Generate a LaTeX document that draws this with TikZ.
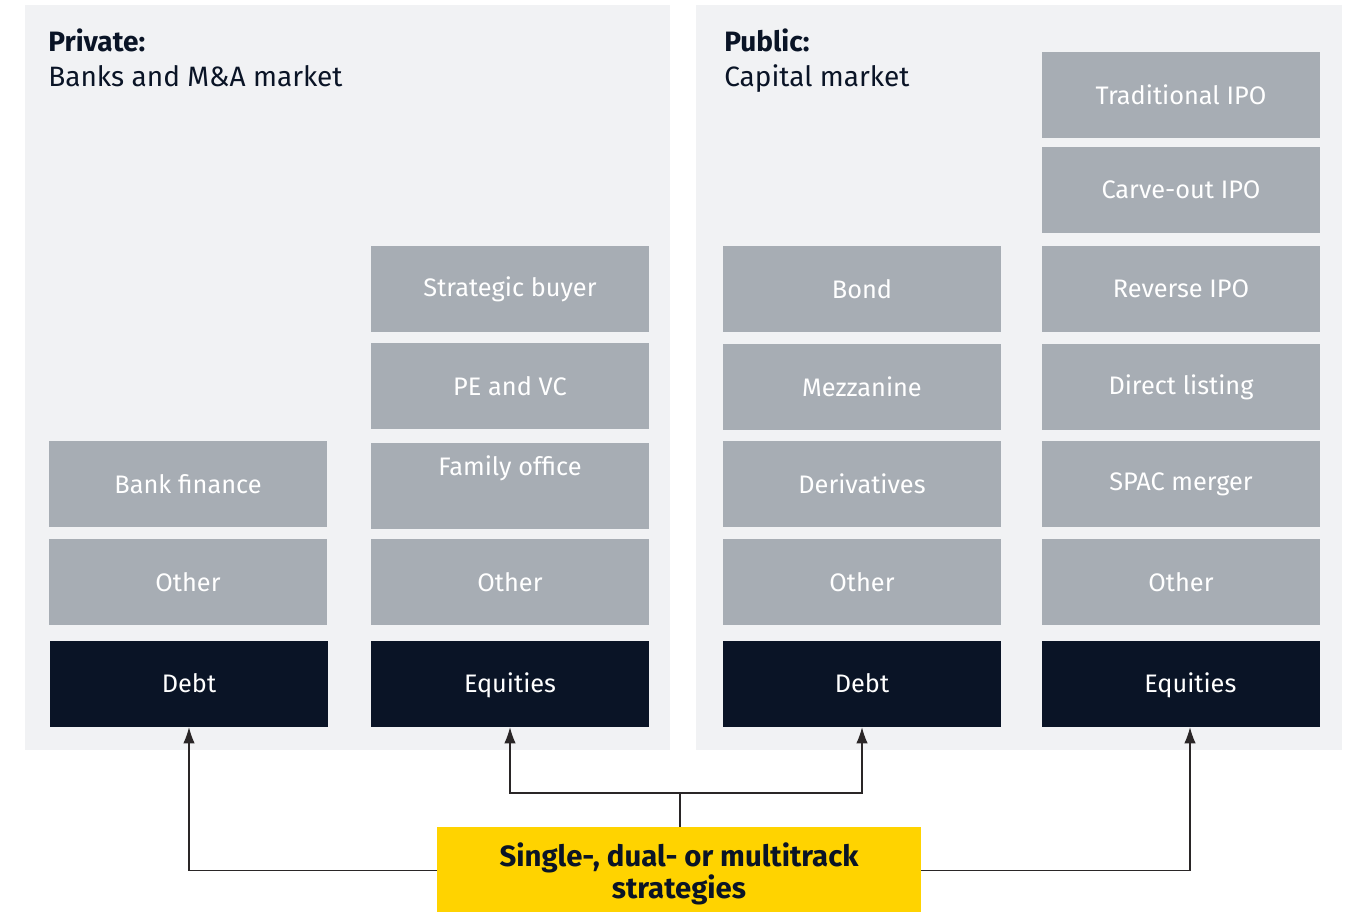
\documentclass[tikz,border=0pt]{standalone}
\usepackage{fontspec}
\setmainfont{Fira Sans}
\usetikzlibrary{positioning,arrows.meta}

\definecolor{panelgray}{HTML}{F1F2F4}
\definecolor{boxgray}{HTML}{A7ADB4}
\definecolor{navy}{HTML}{0A1426}
\definecolor{eyyellow}{HTML}{FFD300}
\definecolor{linegray}{HTML}{2A2627}

\tikzset{
  graybox/.style={fill=boxgray, text=white, minimum width=208.5pt, minimum height=64.5pt,
    inner sep=0pt, align=center, font=\fontsize{19}{24}\selectfont},
  darkbox/.style={graybox, fill=navy, text height=14pt, text depth=2pt},
  heading/.style={anchor=base west, inner sep=0pt, text=navy, font=\fontsize{21}{26}\selectfont},
  track/.style={draw=linegray, line width=0.8pt, -{Latex[length=12pt,width=8.5pt]}},
}

\begin{document}
\begin{tikzpicture}[x=0.75pt,y=-0.75pt]
      \useasboundingbox (0,0) rectangle (1349,912);
      % the two markets
      \fill[panelgray] (25,5) rectangle (670,750);
      \fill[panelgray] (696,5) rectangle (1342,750);
      \node[heading] (privhead) at (48,52) {\bfseries Private:};
      \node[heading] (privsub) at (48,87) {Banks and M\&A market};
      \node[heading] (pubhead) at (724,52) {\bfseries Public:};
      \node[heading] (pubsub) at (724,87) {Capital market};

      % private: debt
      \node[graybox] (bank) at (188,484) {Bank finance};
      \node[graybox] (privdebtother) at (188,582) {Other};
      \node[darkbox] (privdebt) at (189,684) {Debt};

      % private: equities
      \node[graybox] (strat) at (510,289) {Strategic buyer};
      \node[graybox] (pevc) at (510,386) {PE and VC};
      \node[graybox] (family) at (510,486) {Family office\\\strut};
      \node[graybox] (priveqother) at (510,582) {Other};
      \node[darkbox] (priveq) at (510,684) {Equities};

      % public: debt
      \node[graybox] (bond) at (862,289) {Bond};
      \node[graybox] (mezz) at (862,387) {Mezzanine};
      \node[graybox] (deriv) at (862,484) {Derivatives};
      \node[graybox] (pubdebtother) at (862,582) {Other};
      \node[darkbox] (pubdebt) at (862,684) {Debt};

      % public: equities
      \node[graybox] (tradipo) at (1181,95) {Traditional IPO};
      \node[graybox] (carveipo) at (1181,190) {Carve-out IPO};
      \node[graybox] (revipo) at (1181,289) {Reverse IPO};
      \node[graybox] (direct) at (1181,387) {Direct listing};
      \node[graybox] (spac) at (1181,484) {SPAC merger};
      \node[graybox] (pubeqother) at (1181,582) {Other};
      \node[darkbox] (pubeq) at (1181,684) {\hspace*{14pt}Equities};

      % strategies (box runs off the bottom edge)
      \node[fill=eyyellow, text=navy, minimum width=363pt, minimum height=69.75pt, inner sep=0pt,
        align=center, font=\fontsize{22}{24}\selectfont\bfseries] (strategy) at (679,873.5)
        {Single-, dual- or multitrack\\strategies};
      \coordinate (split) at (680,793);

      \draw[draw=linegray, line width=0.8pt] (strategy.north -| split) -- (split);
      \draw[track] (split) -| (priveq.south);
      \draw[track] (split) -| (pubdebt.south);
      \draw[track] ([yshift=2.6pt]strategy.west) -| (privdebt.south);
      \draw[track] ([yshift=2.6pt]strategy.east) -| ([xshift=6.75pt]pubeq.south);
    \end{tikzpicture}
\end{document}
